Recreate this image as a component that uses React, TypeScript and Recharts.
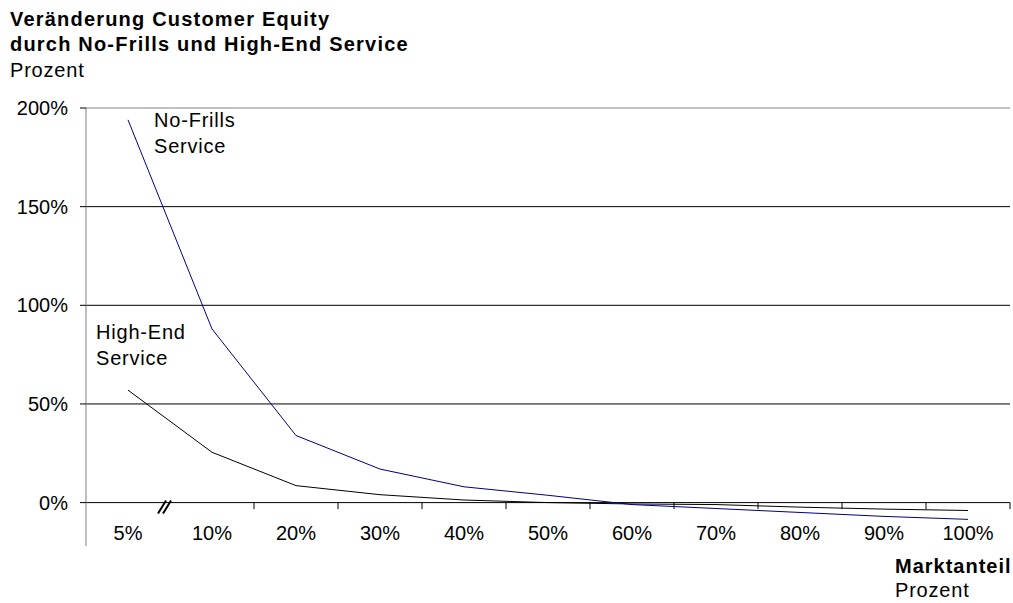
import React from 'react';
import { LineChart, Line, XAxis, YAxis, ReferenceLine } from 'recharts';

const categories = ['5%', '10%', '20%', '30%', '40%', '50%', '60%', '70%', '80%', '90%', '100%'];
const noFrills = [194, 88, 34, 17, 8, 3.7, -1, -3, -5, -7, -8.5];
const highEnd = [57, 25.5, 8.6, 4, 1.3, 0, -0.7, -1, -2.3, -3.3, -4];
const yTicks = [0, 50, 100, 150, 200];
const tickMarkCats = ['20%', '30%', '40%', '50%', '60%', '70%', '80%', '90%', '100%'];

const data = categories.map((c, i) => ({ cat: c, noFrills: noFrills[i], highEnd: highEnd[i] }));

const FONT = "'Liberation Sans', Arial, sans-serif";

const XTick = (props: any) => {
  const { x, y, payload } = props;
  return (
    <text x={x} y={y - 13} dy="0.355em" textAnchor="middle" fontSize={20} fontFamily={FONT} fill="#000">
      {payload.value}
    </text>
  );
};

const BreakShape = (props: any) => {
  const { x1, y1 } = props;
  if (x1 == null || y1 == null) return null;
  return (
    <g>
      <line x1={x1 - 12} y1={y1 + 11} x2={x1 - 4} y2={y1 - 2} stroke="#000" strokeWidth={2} />
      <line x1={x1 - 7} y1={y1 + 11} x2={x1 + 1} y2={y1 - 2} stroke="#000" strokeWidth={2} />
    </g>
  );
};

export default function App() {
  return (
    <div style={{ position: 'absolute', left: 0, top: 0, width: 1013, height: 603, background: '#fff' }}>
      <LineChart
        width={1013}
        height={603}
        data={data}
        margin={{ top: 108, right: 3, bottom: 27, left: 0 }}
        style={{ fontFamily: FONT }}
      >
        {yTicks.map((v) => (
          <ReferenceLine key={`g${v}`} y={v} stroke={v === 200 ? '#808080' : '#000'} />
        ))}
        <XAxis
          dataKey="cat"
          scale="band"
          axisLine={false}
          tickLine={false}
          tickSize={0}
          tickMargin={0}
          height={30}
          interval={0}
          tick={<XTick />}
        />
        <YAxis
          domain={[-22, 200]}
          ticks={yTicks}
          width={86}
          tickSize={6}
          tickMargin={12}
          axisLine={{ stroke: '#808080' }}
          tickLine={{ stroke: '#000' }}
          tick={{ fontSize: 20, fill: '#000', fontFamily: FONT }}
          tickFormatter={(v: number) => `${v}%`}
          allowDataOverflow
        />
        {tickMarkCats.map((c) => (
          <ReferenceLine
            key={c}
            segment={[{ x: c, y: 0 }, { x: c, y: -3.3 }]}
            position="start"
            stroke="#000"
          />
        ))}
        <ReferenceLine
          segment={[{ x: '100%', y: 0 }, { x: '100%', y: -3.3 }]}
          position="end"
          stroke="#000"
        />
        <Line type="linear" dataKey="highEnd" stroke="#000" strokeWidth={1} dot={false} isAnimationActive={false} />
        <Line type="linear" dataKey="noFrills" stroke="#000080" strokeWidth={1} dot={false} isAnimationActive={false} />
        <ReferenceLine
          segment={[{ x: '10%', y: 0 }, { x: '10%', y: -1 }]}
          position="start"
          shape={<BreakShape />}
        />
      </LineChart>
      <svg
        width={1013}
        height={603}
        style={{ position: 'absolute', left: 0, top: 0, pointerEvents: 'none' }}
        fontFamily={FONT}
        fontSize={20}
      >
        <text x={10} y={26} fontWeight="bold" letterSpacing={1.2}>Veränderung Customer Equity</text>
        <text x={10} y={51} fontWeight="bold" letterSpacing={1.2}>durch No-Frills und High-End Service</text>
        <text x={10} y={77} letterSpacing={0.8}>Prozent</text>
        <text x={154} y={127} letterSpacing={0.8}>No-Frills</text>
        <text x={154} y={153} letterSpacing={0.8}>Service</text>
        <text x={96} y={339} letterSpacing={0.8}>High-End</text>
        <text x={96} y={365} letterSpacing={0.8}>Service</text>
        <text x={895} y={573} fontWeight="bold" letterSpacing={1}>Marktanteil</text>
        <text x={895} y={597} letterSpacing={0.8}>Prozent</text>
      </svg>
    </div>
  );
}
